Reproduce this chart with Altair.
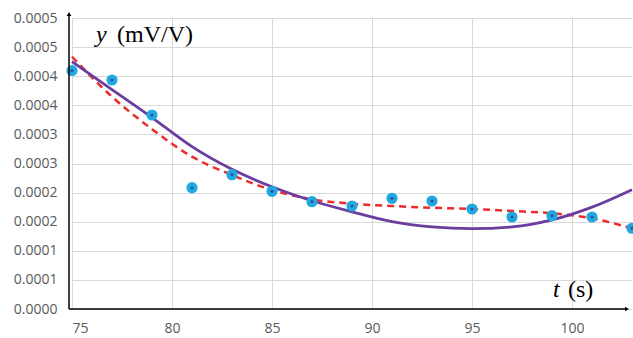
import altair as alt
import pandas as pd

# measured points
t_points = [75, 77, 79, 81, 83, 85, 87, 89, 91, 93, 95, 97, 99, 101, 103]
y_points = [0.0004095, 0.0003935, 0.0003333, 0.0002084, 0.0002308, 0.0002022,
            0.0001844, 0.0001770, 0.0001902, 0.0001856, 0.0001718, 0.0001581,
            0.0001603, 0.0001581, 0.0001387]

# solid (purple) fitted curve
t_curve = [75, 77, 79, 81, 83, 85, 87, 89, 91, 93, 95, 97, 99, 101, 103]
y_solid = [0.000425, 0.000377, 0.000329, 0.000279, 0.000240, 0.000210,
           0.000186, 0.000167, 0.000150, 0.000141, 0.000138, 0.000141,
           0.000153, 0.000175, 0.000205]

# dashed (red) fitted curve
y_dashed = [0.0004335, 0.0003648, 0.000309, 0.0002617, 0.0002302, 0.0002045,
            0.0001884, 0.000181, 0.000177, 0.000174, 0.0001718, 0.0001684,
            0.0001644, 0.0001558, 0.0001387]

x_ticks = [75, 80, 85, 90, 95, 100]
y_ticks = [0.0, 0.00005, 0.0001, 0.00015, 0.0002, 0.00025, 0.0003, 0.00035,
           0.0004, 0.00045, 0.0005]
y_tick_labels = ["0.0000", "0.0001", "0.0001", "0.0002", "0.0002", "0.0003",
                 "0.0003", "0.0004", "0.0004", "0.0005", "0.0005"]

W, H = 560, 291

pts = pd.DataFrame({"t": t_points, "y": y_points})
curves = pd.DataFrame({"t": t_curve, "solid": y_solid, "dashed": y_dashed})

label_arr = "[" + ",".join("'%s'" % s for s in y_tick_labels) + "]"

x_enc = alt.X("t:Q",
              scale=alt.Scale(domain=[75, 103], nice=False, zero=False),
              axis=alt.Axis(values=x_ticks, grid=True, gridColor="#d9d9d9",
                            gridWidth=1, domain=False, ticks=False,
                            labelPadding=12, labelFont="Open Sans",
                            labelFontSize=14, labelColor="#595959",
                            title=None))

def y_enc(field):
    return alt.Y(field + ":Q",
                 scale=alt.Scale(domain=[0, 0.0005], nice=False, zero=True),
                 axis=alt.Axis(values=y_ticks, grid=True, gridColor="#d9d9d9",
                               gridWidth=1, domain=False, ticks=False,
                               labelPadding=15, labelFont="Open Sans",
                               labelFontSize=14, labelColor="#595959",
                               labelExpr=label_arr + "[round(datum.value/0.00005)]",
                               title=None))

base_curves = alt.Chart(curves)

dashed = base_curves.mark_line(color="#ee2b2b", strokeWidth=2.5,
                               strokeDash=[7, 5], interpolate="monotone").encode(
    x=x_enc, y=y_enc("dashed"))

solid = base_curves.mark_line(color="#6a3d9f", strokeWidth=2.8,
                              interpolate="monotone").encode(
    x=x_enc, y=y_enc("solid"))

outer = alt.Chart(pts).mark_point(filled=True, size=125, opacity=1,
                                  color="#1fa8e2").encode(x=x_enc, y=y_enc("y"))
inner = alt.Chart(pts).mark_point(filled=True, size=10, opacity=1,
                                  color="#2f5597").encode(x=x_enc, y=y_enc("y"))

one = alt.Data(values=[{"a": 1}])

y_axis_line = alt.Chart(one).mark_rule(color="black", strokeWidth=1.5).encode(
    x=alt.value(-3), y=alt.value(H), y2=alt.value(-4))
x_axis_line = alt.Chart(one).mark_rule(color="black", strokeWidth=1.5).encode(
    x=alt.value(-3), x2=alt.value(554), y=alt.value(H))
arrow_up = alt.Chart(one).mark_point(shape="triangle-up", filled=True, size=22,
                                     color="black", opacity=1).encode(
    x=alt.value(-3), y=alt.value(-4))
arrow_right = alt.Chart(one).mark_point(shape="triangle-right", filled=True,
                                        size=22, color="black", opacity=1).encode(
    x=alt.value(555), y=alt.value(H))

def txt(s, x, y, italic=False):
    return alt.Chart(alt.Data(values=[{"s": s}])).mark_text(
        font="Liberation Serif", fontSize=24, align="left", baseline="alphabetic",
        fontStyle="italic" if italic else "normal", color="black").encode(
        text="s:N", x=alt.value(x), y=alt.value(y))

titles = [txt("y", 24, 24, True), txt("(mV/V)", 45, 24),
          txt("t", 481, 279, True), txt("(s)", 496, 279)]

chart = alt.layer(dashed, solid, outer, inner, y_axis_line, x_axis_line,
                  arrow_up, arrow_right, *titles).properties(
    width=W, height=H,
    autosize=alt.AutoSizeParams(type="none"),
    padding={"left": 72, "top": 18, "right": 1, "bottom": 29},
).configure_view(stroke=None)

chart.save("out.html", embed_options={"renderer": "svg", "actions": False})
